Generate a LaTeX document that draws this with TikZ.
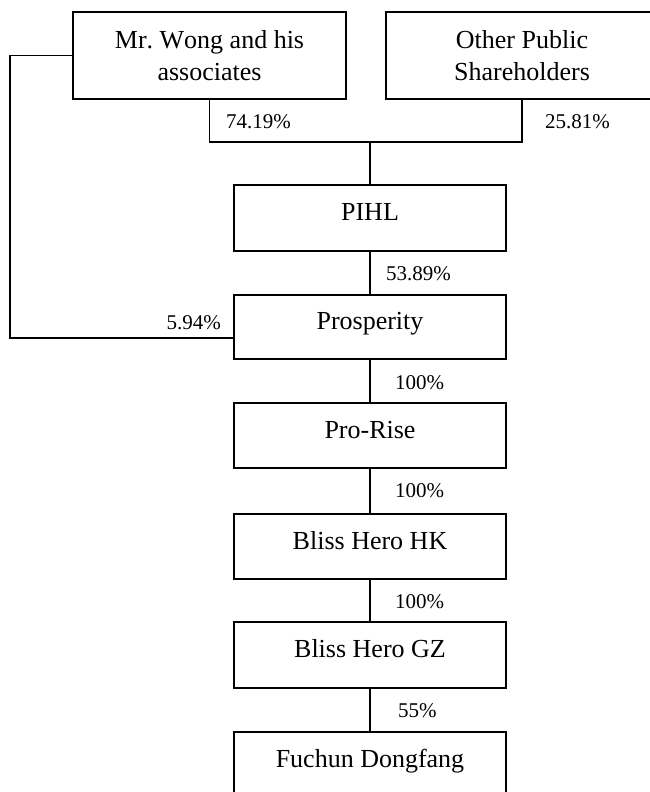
\documentclass[tikz,border=0pt]{standalone}
\usepackage{fontspec}
\setmainfont[Kerning=Off]{Liberation Serif}
\usetikzlibrary{calc}
\begin{document}
\begin{tikzpicture}[x=1pt,y=-1pt,
  box/.style={draw,line width=1.5pt,minimum width=272pt,inner sep=0pt,font=\fontsize{26}{31.6}\selectfont},
  onebox/.style={box,minimum height=65pt,text height=19.5pt,text depth=14.5pt},
  twobox/.style={box,minimum height=87pt,align=center},
  pct/.style={font=\fontsize{21}{25}\selectfont,anchor=base west,inner sep=0pt},
  link/.style={line width=1.5pt}]
\useasboundingbox (0,0) rectangle (650,792);
\fill[white] (0,0) rectangle (650,792);

\node[twobox,minimum width=273pt] (wong) at (209.5,55.5) {Mr.\ Wong and his\\associates};
\node[twobox] (other) at (522,55.5) {Other Public\\Shareholders};
\node[onebox,minimum height=66pt] (pihl) at (370,218) {PIHL};
\node[onebox,minimum height=64pt] (pros) at (370,327) {Prosperity};
\node[onebox] (prorise) at (370,435.5) {Pro-Rise};
\node[onebox] (hk) at (370,546.5) {Bliss Hero HK};
\node[onebox,minimum height=66pt] (gz) at (370,655) {Bliss Hero GZ};
\node[onebox,minimum height=66pt] (fuchun) at (370,765) {Fuchun Dongfang};

\coordinate (j) at (370,142);
\coordinate (lx) at (10,0);
\coordinate (pin) at ($(pros.west)+(0,11)$);

\draw[link] (wong.south) |- (j) -| (other.south);
\draw[link] (j) -- (pihl.north);
\draw[link] (pihl.south) -- (pros.north);
\draw[link] (pros.south) -- (prorise.north);
\draw[link] (prorise.south) -- (hk.north);
\draw[link] (hk.south) -- (gz.north);
\draw[link] (gz.south) -- (fuchun.north);
\draw[link] (wong.west) -- (wong.west -| lx) |- (pin);

\node[pct] (l1) at (226,128) {74.19\%};
\node[pct] (l2) at (545,128) {25.81\%};
\node[pct] (l3) at (386,280) {53.89\%};
\node[pct,anchor=base east] (l4) at (221,329) {5.94\%};
\node[pct] (l5) at (395,389) {100\%};
\node[pct] (l6) at (395,497) {100\%};
\node[pct] (l7) at (395,608) {100\%};
\node[pct] (l8) at (398,717) {55\%};
\end{tikzpicture}
\end{document}
